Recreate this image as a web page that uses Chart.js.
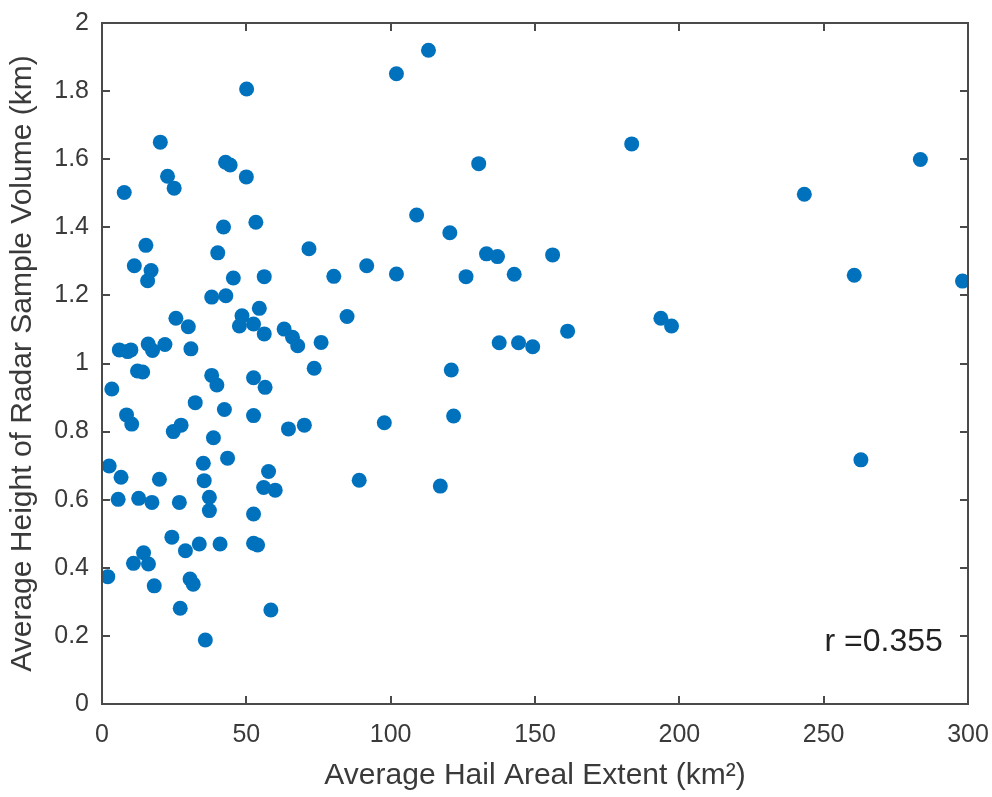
<!DOCTYPE html>
<html>
<head>
<meta charset="utf-8">
<script src="https://cdn.jsdelivr.net/npm/chart.js@4"></script>
<style>
  html, body { margin: 0; padding: 0; background: #fff; }
  #wrap { width: 992px; height: 797px; }
</style>
</head>
<body>
<div id="wrap"><canvas id="hailChart"></canvas></div>
<script>
// hail areal extent (km^2) vs. average height of radar sample volume (km)
const hailExtent = [
    50.1, 20.2, 42.8, 44.4, 50.0, 22.7, 25.0, 7.7, 42.1, 53.3,
    15.2, 40.1, 71.7, 11.2, 17.0, 15.8, 45.5, 56.2, 80.3, 38.0,
    42.9, 54.5, 48.5, 47.6, 52.5, 56.2, 25.6, 29.9, 63.1, 66.0,
    67.8, 75.9, 84.9, 6.0, 10.0, 8.9, 16.0, 17.5, 21.8, 30.8,
    73.5, 12.3, 14.1, 3.4, 38.0, 39.8, 52.5, 56.5, 32.3, 42.4,
    52.5, 8.5, 10.3, 24.7, 27.4, 64.6, 70.1, 38.6, 2.5, 6.6,
    19.9, 43.5, 35.1, 57.7, 35.4, 56.0, 60.0, 5.6, 12.7, 17.3,
    26.8, 37.2, 37.2, 52.5, 24.2, 28.9, 33.7, 40.9, 52.5, 53.9,
    14.4, 10.9, 16.1, 2.0, 18.1, 30.5, 31.6, 27.1, 58.5, 35.8,
    113.1, 102.0, 183.5, 130.5, 109.0, 120.5, 133.2, 137.0, 156.1, 91.7,
    102.0, 126.1, 142.8, 137.6, 144.3, 149.2, 161.3, 121.0, 121.8, 97.8,
    89.1, 117.2, 283.5, 243.3, 260.6, 298.1, 193.6, 197.3, 262.9
];
const sampleHeight = [
    1.806, 1.650, 1.591, 1.583, 1.548, 1.550, 1.515, 1.502, 1.401, 1.415,
    1.347, 1.325, 1.337, 1.287, 1.273, 1.243, 1.251, 1.255, 1.256, 1.195,
    1.199, 1.162, 1.140, 1.110, 1.116, 1.087, 1.133, 1.108, 1.101, 1.077,
    1.052, 1.062, 1.138, 1.040, 1.040, 1.035, 1.057, 1.038, 1.056, 1.043,
    0.986, 0.978, 0.975, 0.925, 0.965, 0.937, 0.958, 0.930, 0.885, 0.865,
    0.847, 0.849, 0.822, 0.800, 0.819, 0.808, 0.819, 0.782, 0.699, 0.666,
    0.660, 0.722, 0.707, 0.683, 0.656, 0.636, 0.628, 0.601, 0.604, 0.592,
    0.592, 0.607, 0.568, 0.558, 0.490, 0.450, 0.470, 0.470, 0.472, 0.467,
    0.444, 0.413, 0.411, 0.374, 0.347, 0.367, 0.352, 0.281, 0.276, 0.188,
    1.920, 1.851, 1.645, 1.587, 1.436, 1.384, 1.322, 1.314, 1.319, 1.287,
    1.263, 1.255, 1.262, 1.061, 1.061, 1.049, 1.095, 0.981, 0.846, 0.826,
    0.657, 0.640, 1.599, 1.497, 1.259, 1.242, 1.133, 1.110, 0.717
];
const corrLabel = 'r =0.355';
const corrAt = { x: 250.3, y: 0.182 };

const xTitle = 'Average Hail Areal Extent (km\u00B2)';
const yTitle = 'Average Height of Radar Sample Volume (km)';

const axisColor = '#4a4a4a';
const textColor = '#3a3a3a';
const fontFamily = 'Arial, "Liberation Sans", Helvetica, sans-serif';

// box around the plot with inward ticks on all four sides, plus the r label
const matlabBox = {
    id: 'matlabBox',
    afterDraw(chart) {
        const { ctx, chartArea: a, scales } = chart;
        const len = 8;
        ctx.save();
        ctx.strokeStyle = axisColor;
        ctx.lineWidth = 2;
        ctx.strokeRect(a.left, a.top, a.right - a.left, a.bottom - a.top);
        ctx.beginPath();
        scales.x.ticks.forEach(t => {
            const px = Math.round(scales.x.getPixelForValue(t.value));
            ctx.moveTo(px, a.bottom); ctx.lineTo(px, a.bottom - len);
            ctx.moveTo(px, a.top); ctx.lineTo(px, a.top + len);
        });
        scales.y.ticks.forEach(t => {
            const py = Math.round(scales.y.getPixelForValue(t.value));
            ctx.moveTo(a.left, py); ctx.lineTo(a.left + len, py);
            ctx.moveTo(a.right, py); ctx.lineTo(a.right - len, py);
        });
        ctx.stroke();

        ctx.fillStyle = '#222';
        ctx.font = '32px ' + fontFamily;
        ctx.textAlign = 'left';
        ctx.textBaseline = 'middle';
        ctx.fillText(corrLabel, scales.x.getPixelForValue(corrAt.x), scales.y.getPixelForValue(corrAt.y));
        ctx.restore();
    }
};

const ctx = document.getElementById('hailChart').getContext('2d');
new Chart(ctx, {
    type: 'scatter',
    data: {
        datasets: [{
            data: hailExtent.map((x, i) => ({ x: x, y: sampleHeight[i] })),
            backgroundColor: '#0072BD',
            borderWidth: 0,
            pointRadius: 7.5,
            pointHoverRadius: 7.5
        }]
    },
    options: {
        responsive: true,
        maintainAspectRatio: false,
        animation: false,
        events: [],
        layout: { padding: { top: 23, right: 24, left: 0, bottom: 0 } },
        plugins: {
            legend: { display: false },
            tooltip: { enabled: false }
        },
        scales: {
            x: {
                type: 'linear',
                min: 0,
                max: 300,
                // fixed axis band; end labels may overhang the margins
                afterFit: s => { s.height = 93; s.paddingLeft = 0; s.paddingRight = 0; },
                grid: { display: false, drawTicks: false },
                border: { display: false },
                ticks: { stepSize: 50, padding: 16, color: textColor, font: { family: fontFamily, size: 25 } },
                title: { display: true, text: xTitle, color: textColor, padding: { top: 0, bottom: 3 }, font: { family: fontFamily, size: 30 } }
            },
            y: {
                min: 0,
                max: 2,
                afterFit: s => { s.width = 102; s.paddingTop = 0; s.paddingBottom = 0; },
                grid: { display: false, drawTicks: false },
                border: { display: false },
                ticks: {
                    stepSize: 0.2,
                    padding: 13,
                    color: textColor,
                    font: { family: fontFamily, size: 25 },
                    callback: v => String(Number(v.toFixed(1)))
                },
                title: { display: true, text: yTitle, color: textColor, padding: { top: 5, bottom: 0 }, font: { family: fontFamily, size: 30 } }
            }
        }
    },
    plugins: [matlabBox]
});
</script>
</body>
</html>
